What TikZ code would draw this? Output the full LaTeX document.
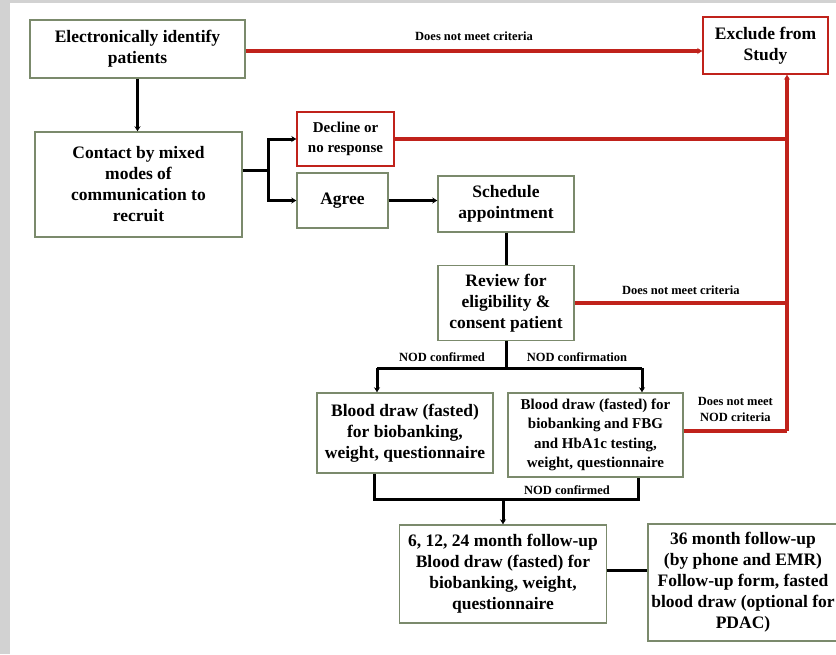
\documentclass[tikz,border=0pt]{standalone}
\usepackage{fontspec}
\setmainfont{Liberation Serif}
\usetikzlibrary{arrows.meta,positioning}
\definecolor{boxline}{HTML}{7B8A6C}
\definecolor{exred}{HTML}{C0221B}
\definecolor{framegray}{HTML}{D2D2D2}

\begin{document}
\begin{tikzpicture}[x=1pt,y=-1pt,>={Stealth[length=5pt,width=6pt]},
    box/.style={draw=boxline,line width=1.4pt,fill=white,align=center,inner sep=0pt,
      font=\fontsize{17.5}{21}\selectfont\bfseries},
    redbox/.style={box,draw=exred},
    small/.style={font=\fontsize{15}{19.5}\selectfont\bfseries},
    lbl/.style={inner sep=0pt,align=center,font=\fontsize{12.5}{15.5}\selectfont\bfseries},
    link/.style={line width=3pt},
    nolink/.style={line width=3.2pt,draw=exred}]
  % frame
  \fill [framegray] (0,0) rectangle (836,654);
  \fill [white] (10,3) rectangle (836,654);
  \useasboundingbox (0,0) rectangle (836,654);

  % boxes
  \node (ident) at (137.5,49) [box,minimum width=215pt,minimum height=58pt]
    {Electronically identify\\patients};
  \node (exclude) at (765.5,45.5) [redbox,minimum width=125pt,minimum height=57pt]
    {Exclude from\\Study};
  \node (contact) at (138.5,184.5) [box,minimum width=207pt,minimum height=105pt]
    {Contact by mixed\\modes of\\communication to\\recruit};
  \node (decline) at (345.5,139) [redbox,small,minimum width=97pt,minimum height=54pt]
    {Decline or\\no response};
  \node (agree) at (342.5,200.5) [box,minimum width=91pt,minimum height=55pt] {Agree};
  \node (sched) at (506,204) [box,minimum width=136pt,minimum height=56pt]
    {Schedule\\appointment};
  \node (review) at (506,303) [box,minimum width=136pt,minimum height=75pt]
    {Review for\\eligibility \&\\consent patient};
  \node (bloodA) at (405,433) [box,minimum width=176pt,minimum height=80pt]
    {Blood draw (fasted)\\for biobanking,\\weight, questionnaire};
  \node (bloodB) at (595.5,435) [box,small,minimum width=175pt,minimum height=84pt]
    {Blood draw (fasted) for\\biobanking and FBG\\and HbA1c testing,\\weight, questionnaire};
  \node (follow) at (503,574) [box,minimum width=207pt,minimum height=98pt]
    {6, 12, 24 month follow-up\\Blood draw (fasted) for\\biobanking, weight,\\questionnaire};
  \node (final) at (743,582.5) [box,minimum width=190pt,minimum height=117pt]
    {36 month follow-up\\(by phone and EMR)\\Follow-up form, fasted\\blood draw (optional for\\PDAC)};

  % junctions
  \coordinate (fork) at (268,170);
  \coordinate (rail) at (787,431);
  \coordinate (splitL) at (377,368);
  \coordinate (splitR) at (642,368);
  \coordinate (joinL) at (374,499);
  \coordinate (joinR) at (638,499);

  % exclusion paths
  \draw [nolink,->] ([yshift=-2pt]ident.east) -- ([yshift=-2pt]ident.east -| exclude.west)
    node [lbl,midway,above=9pt] (nomeetA) {Does not meet criteria};
  \draw [nolink,->] (rail) -- (rail |- exclude.south);
  \draw [nolink] (decline.east) -- (decline.east -| rail);
  \draw [nolink] (review.east) -- (review.east -| rail)
    node [lbl,midway,above=7pt] (nomeetB) {Does not meet criteria};
  \draw [nolink] (bloodB.east |- rail) -- (rail)
    node [lbl,midway,above=8pt] (nomeetC) {Does not meet\\NOD criteria};

  % main flow
  \draw [link,->] (ident.south) -- (ident.south |- contact.north);
  \draw [link] (contact.east |- fork) -- (fork);
  \draw [link,->] (fork) |- (decline.west);
  \draw [link,->] (fork) |- (agree.west);
  \draw [link,->] (agree.east) -- (agree.east -| sched.west);
  \draw [link] (sched) -- (review);
  \draw [link] (review.south) -- (review.south |- splitL);
  \draw [link,->] (splitL) -- (splitL |- bloodA.north);
  \draw [link] (splitL) -- (splitR);
  \draw [link,->] (splitR) -- (splitR |- bloodB.north);
  \node (nodyes) at (442,357) [lbl] {NOD confirmed};
  \node (nodtest) at (577,357) [lbl] {NOD confirmation};
  \draw [link] (bloodA.south -| joinL) -- (joinL) -- (joinR) -- (bloodB.south -| joinR);
  \node (nodjoin) at (567,490) [lbl] {NOD confirmed};
  \draw [link,->] (joinL -| follow) -- (follow);
  \draw [link] ([yshift=4pt]follow.east) -- ([yshift=4pt]follow.east -| final.west);
\end{tikzpicture}
\end{document}
